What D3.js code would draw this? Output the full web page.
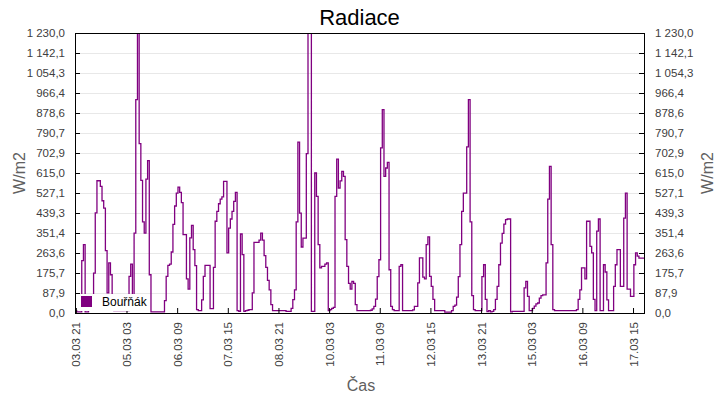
<!DOCTYPE html>
<html>
<head>
<meta charset="utf-8">
<script src="https://cdn.jsdelivr.net/npm/d3@7"></script>
<style>
  html, body { margin: 0; padding: 0; background: #fff; }
  svg { display: block; font-family: "Liberation Sans", Arial, sans-serif; }
</style>
</head>
<body>
<svg id="chart" width="720" height="400"></svg>
<script>
// ---- data ----
const title = "Radiace";
const seriesName = "Bouřňák";
const xTitle = "Čas";
const yTitle = "W/m2";
const startTime = "2025-03-03T20:30:00Z"; // first hourly sample
const tickLabels = ["03.03 21","05.03 03","06.03 09","07.03 15","08.03 21","10.03 03",
                    "11.03 09","12.03 15","13.03 21","15.03 03","16.03 09","17.03 15"];
const yMax = 1230;
const yTickCount = 14;
// hourly radiation values [W/m2]
const values = [
  10,5,5,5,230,300,5,5,17,30,30,175,440,581,581,556,493,461,274,88,220,168,12,
  10,10,10,10,10,10,10,10,10,
  161,215,26,351,937,1230,744,583,400,351,588,669,168,
  5,5,5,5,5,5,5,5,
  54,161,209,215,268,389,470,527,553,530,485,344,344,150,105,330,385,278,208,15,10,10,
  58,161,209,209,209,19,19,200,403,446,480,500,510,578,578,264,373,413,446,490,530,10,7,
  347,256,7,10,12,15,15,88,310,310,310,320,351,320,252,200,143,102,37,
  10,10,10,10,10,10,10,10,7,7,7,
  20,59,102,400,751,439,290,329,329,700,1230,1230,7,7,615,512,300,198,205,205,215,220,
  10,15,20,25,512,676,549,580,622,600,322,205,130,105,139,130,37,
  10,10,10,10,10,10,10,10,
  12,18,29,61,160,234,725,893,600,637,662,190,29,15,10,10,10,205,212,
  10,10,10,10,10,10,14,29,29,132,242,242,158,150,300,334,161,117,60,
  10,10,10,10,10,10,4,4,4,4,
  10,29,35,70,160,300,446,527,527,730,937,400,76,15,10,10,10,10,
  160,212,60,6,10,5,7,15,60,117,212,307,350,390,410,413,413,5,
  7,7,7,7,7,7,7,
  110,139,73,10,10,20,30,40,44,65,76,80,80,220,500,644,300,15,
  10,10,10,10,10,10,10,10,10,10,10,10,10,
  15,60,102,198,198,150,403,403,293,264,60,10,360,413,10,10,212,180,58,10,10,10,
  117,212,278,278,117,117,417,527,105,105,73,73,212,264,250,241,241,241,241
];

// ---- layout ----
const M = { left: 75, right: 644, top: 33, bottom: 313 };
const svg = d3.select("#chart");

const t0 = new Date(startTime);
const times = values.map((v, i) => new Date(t0.getTime() + i * 3600e3));
const data = values.map((v, i) => ({ t: times[i], v }));

const x = d3.scaleUtc().domain([times[0], times[times.length - 1]]).range([M.left, M.right]);
const y = d3.scaleLinear().domain([0, yMax]).range([M.bottom, M.top]);

const loc = d3.formatLocale({ decimal: ",", thousands: "\u00a0", grouping: [3], currency: ["", ""] });
const fmt = loc.format(",.1f");
const yTicks = d3.range(yTickCount + 1).map(i => yMax * i / yTickCount);

const parseTick = s => {
  const [dm, h] = s.split(" ");
  const [d, m] = dm.split(".").map(Number);
  return new Date(Date.UTC(t0.getUTCFullYear(), m - 1, d, +h));
};
const xTicks = tickLabels.map(parseTick);

// gridlines
svg.append("g").selectAll("line").data(yTicks.slice(1, -1)).join("line")
  .attr("x1", M.left).attr("x2", M.right)
  .attr("y1", d => Math.round(y(d)) + 0.5).attr("y2", d => Math.round(y(d)) + 0.5)
  .attr("stroke", "#e8e8e8").attr("stroke-width", 1);

// clip
svg.append("clipPath").attr("id", "clip").append("rect")
  .attr("x", M.left).attr("y", M.top).attr("width", M.right - M.left).attr("height", M.bottom - M.top);

// line
const line = d3.line().x(d => x(d.t)).y(d => y(d.v)).curve(d3.curveStepAfter);
svg.append("path").datum(data)
  .attr("clip-path", "url(#clip)")
  .attr("d", line)
  .attr("fill", "none").attr("stroke", "#800080").attr("stroke-width", 1.3);

// axes
const tickColor = "#000";
const labelColor = "#404040";
const axL = d3.axisLeft(y).tickValues(yTicks).tickFormat(fmt).tickSizeInner(-5).tickSizeOuter(0).tickPadding(10);
const axR = d3.axisRight(y).tickValues(yTicks).tickFormat(fmt).tickSizeInner(-5).tickSizeOuter(0).tickPadding(11);
const axB = d3.axisBottom(x).tickValues(xTicks).tickFormat((d, i) => tickLabels[i]).tickSizeInner(-5).tickSizeOuter(0);

function style(g) {
  g.select(".domain").remove();
  g.selectAll(".tick line").attr("stroke", tickColor);
  g.selectAll(".tick text").attr("fill", labelColor).style("font-size", "11.5px")
    .style("font-family", '"Liberation Sans", Arial, sans-serif');
}
svg.append("g").attr("transform", `translate(${M.left},0)`).call(axL).call(style);
svg.append("g").attr("transform", `translate(${M.right},0)`).call(axR).call(style);
const gb = svg.append("g").attr("transform", `translate(0,${M.bottom})`).call(axB).call(style);
gb.selectAll(".tick text")
  .attr("transform", "rotate(-90)")
  .attr("text-anchor", "end")
  .attr("x", -9).attr("y", 0).attr("dy", "0.35em");

// frame
svg.append("rect")
  .attr("x", M.left + 0.5).attr("y", M.top + 0.5)
  .attr("width", M.right - M.left).attr("height", M.bottom - M.top)
  .attr("fill", "none").attr("stroke", "#000").attr("stroke-width", 1);

// legend
const lg = svg.append("g");
lg.append("rect").attr("x", 78).attr("y", 294).attr("width", 72).attr("height", 17).attr("fill", "#fff");
lg.append("rect").attr("x", 81).attr("y", 296).attr("width", 11).attr("height", 11).attr("fill", "#800080");
lg.append("text").attr("x", 102).attr("y", 306).text(seriesName)
  .style("font-size", "12px").attr("fill", "#000");

// titles
svg.append("text").attr("x", (M.left + M.right) / 2).attr("y", 25).attr("text-anchor", "middle")
  .style("font-size", "22px").attr("fill", "#000").text(title);
svg.append("text").attr("x", 361).attr("y", 391).attr("text-anchor", "middle")
  .style("font-size", "16px").attr("fill", "#606060").text(xTitle);
svg.append("text").attr("transform", `translate(25,${(M.top + M.bottom) / 2}) rotate(-90)`)
  .attr("text-anchor", "middle").style("font-size", "16px").attr("fill", "#606060").text(yTitle);
svg.append("text").attr("transform", `translate(713,${(M.top + M.bottom) / 2}) rotate(-90)`)
  .attr("text-anchor", "middle").style("font-size", "16px").attr("fill", "#606060").text(yTitle);
</script>
</body>
</html>
